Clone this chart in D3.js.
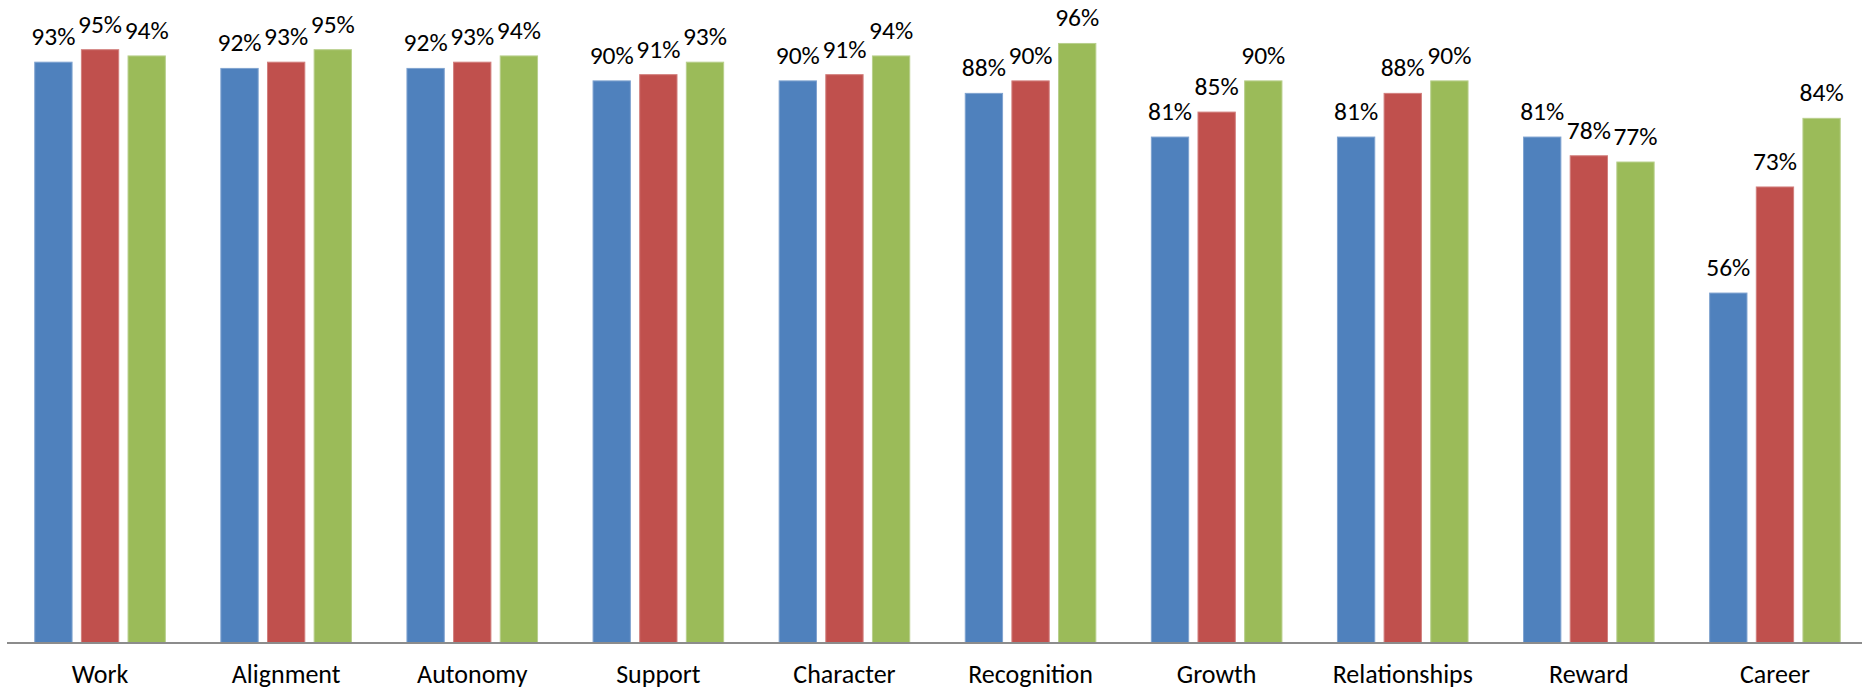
<!DOCTYPE html>
<html>
<head>
<meta charset="utf-8">
<script src="https://cdn.jsdelivr.net/npm/d3@7/dist/d3.min.js"></script>
<style>
  html, body { margin: 0; padding: 0; background: #ffffff; }
  svg { display: block; }
  text { font-family: Calibri, Carlito, Lato, "Open Sans", sans-serif; fill: #000; }
</style>
</head>
<body>
<svg id="chart"></svg>
<script>
// Categories along the x axis
const categories = ["Work", "Alignment", "Autonomy", "Support", "Character",
                    "Recognition", "Growth", "Relationships", "Reward", "Career"];

// Three series, values in percent
const seriesNames = ["s1", "s2", "s3"];
const series1Values = [93, 92, 92, 90, 90, 88, 81, 81, 81, 56];
const series2Values = [95, 93, 93, 91, 91, 90, 85, 88, 78, 73];
const series3Values = [94, 95, 94, 93, 94, 96, 90, 90, 77, 84];

const seriesColors = ["#4F81BD", "#C0504D", "#9BBB59"];
const seriesEdges  = ["#7FA3D0", "#D27F7D", "#B8CF8C"];

const W = 1862, H = 691;
const svg = d3.select("#chart").attr("width", W).attr("height", H);

const allSeries = [series1Values, series2Values, series3Values];
const rows = categories.map((c, i) => ({
  category: c,
  values: seriesNames.map((s, k) => ({ key: s, k, value: allSeries[k][i] }))
}));

// Band per category, bars per series inside each band
const x = d3.scaleBand().domain(categories).range([7, 1868]).paddingInner(0).paddingOuter(0);
const xs = d3.scaleBand().domain(seriesNames).range([0, x.bandwidth()])
  .paddingInner(0.2).paddingOuter(0.595);

const y = d3.scaleLinear().domain([0, 100]).range([642.5, 18.5]);

const groups = svg.append("g").selectAll("g")
  .data(rows).join("g")
  .attr("transform", d => `translate(${x(d.category)},0)`);

groups.selectAll("rect")
  .data(d => d.values).join("rect")
  .attr("x", d => xs(d.key))
  .attr("y", d => y(d.value))
  .attr("width", xs.bandwidth())
  .attr("height", d => y(0) - y(d.value))
  .attr("fill", d => seriesColors[d.k])
  .attr("stroke", d => seriesEdges[d.k])
  .attr("stroke-width", 1);

// Value labels above each bar
groups.selectAll("text.val")
  .data(d => d.values).join("text")
  .attr("class", "val")
  .attr("x", d => xs(d.key) + xs.bandwidth() / 2)
  .attr("y", d => y(d.value) - 17)
  .attr("text-anchor", "middle")
  .attr("font-size", 25.5)
  .text(d => d3.format(".0%")(d.value / 100));

// Category axis
const xAxis = d3.axisBottom(x).tickSize(0).tickPadding(0);
const ax = svg.append("g").attr("transform", `translate(0,${y(0)})`).call(xAxis);
ax.select(".domain").attr("stroke", "#8C8C8C").attr("stroke-width", 2)
  .attr("d", `M7,0.5H${W}`);
ax.selectAll(".tick text")
  .attr("y", 683 - y(0))
  .attr("dy", 0)
  .attr("font-size", 26)
  .attr("fill", "#000")
  .style("font-family", "Calibri, Carlito, Lato, 'Open Sans', sans-serif");
</script>
</body>
</html>
